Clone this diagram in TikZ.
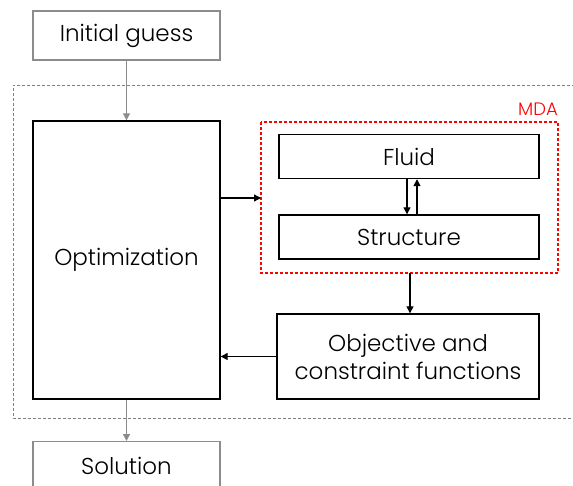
\documentclass[tikz,border=0pt]{standalone}
\usepackage{fontspec}
\setmainfont{Poppins}[UprightFont=* Light]
\usetikzlibrary{arrows.meta}
\begin{document}
\begin{tikzpicture}[x=1pt,y=-1pt,
  txt/.style={font=\fontsize{23}{28}\selectfont},
  blk/.style={draw=black,line width=1.4pt,inner sep=0pt,txt},
  gry/.style={draw=gray!90,line width=1.4pt,inner sep=0pt,txt,text=black},
  blkarrow/.style={draw=black,line width=1.3pt,-{Triangle[length=7pt,width=7pt]}},
  gryarrow/.style={draw=gray!90,line width=1.3pt,-{Triangle[length=7pt,width=7pt]}}]
\useasboundingbox (0,0) rectangle (573,485);

% outer optimization loop and MDA group
\draw[gray,line width=0.9pt,dash pattern=on 3pt off 2pt] (575,85) -- (13,85) -- (13,418) -- (575,418);
\draw[red,line width=1.1pt,dash pattern=on 3pt off 2pt] (261,122) rectangle (558,273);
\node[red,font=\fontsize{18}{18}\selectfont,anchor=south east,inner sep=0pt] (mda) at (558,116) {MDA};

% boxes
\node[gry,minimum width=187pt,minimum height=49pt] (init) at (126.5,35.5) {Initial guess};
\node[blk,minimum width=187pt,minimum height=278pt] (opt) at (126.5,260) {Optimization};
\node[blk,minimum width=260pt,minimum height=44pt] (fluid) at (409,156.5) {Fluid};
\node[blk,minimum width=260pt,minimum height=44pt] (struct) at (409,237) {Structure};
\node[blk,minimum width=262pt,minimum height=85pt,align=center] (obj) at (408,356.5) {Objective and\\constraint functions};
\node[gry,minimum width=187pt,minimum height=49pt,anchor=north] (sol) at (126.5,441) {Solution};

% connectors
\coordinate (mdaL) at (261,198);
\coordinate (mdaB) at (410,273);
\draw[gryarrow] (init.south) -- (opt.north);
\draw[gryarrow] (opt.south) -- (sol.north);
\draw[blkarrow] (opt.east |- mdaL) -- (mdaL);
\draw[blkarrow] (mdaB) -- (mdaB |- obj.north);
\draw[blkarrow] (obj.west) -- (opt.east |- obj.west);
\draw[blkarrow] ([xshift=-2pt]fluid.south) -- ([xshift=-2pt]struct.north);
\draw[blkarrow] ([xshift=8pt]struct.north) -- ([xshift=8pt]fluid.south);
\end{tikzpicture}
\end{document}
